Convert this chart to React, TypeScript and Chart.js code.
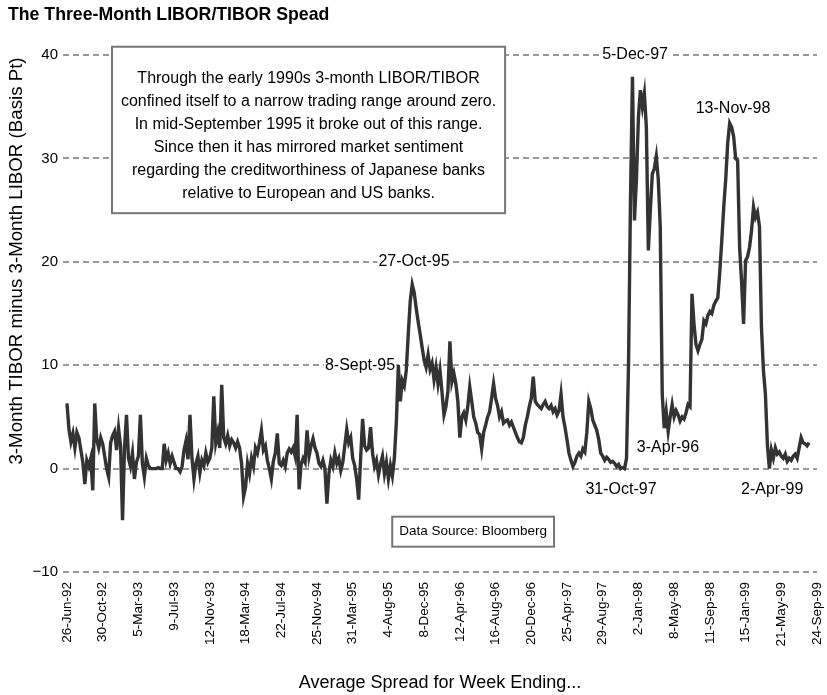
import React, { useEffect, useRef } from 'react';
import { Chart, registerables } from 'chart.js';

Chart.register(...registerables);

const chartTitle = 'The Three-Month LIBOR/TIBOR Spead';
const yAxisTitle = '3-Month TIBOR minus 3-Month LIBOR (Basis Pt)';
const xAxisTitle = 'Average Spread for Week Ending...';

// x tick labels, one every 18 weeks starting 26-Jun-92
const tickLabels = [
  '26-Jun-92', '30-Oct-92', '5-Mar-93', '9-Jul-93', '12-Nov-93', '18-Mar-94',
  '22-Jul-94', '25-Nov-94', '31-Mar-95', '4-Aug-95', '8-Dec-95', '12-Apr-96',
  '16-Aug-96', '20-Dec-96', '25-Apr-97', '29-Aug-97', '2-Jan-98', '8-May-98',
  '11-Sep-98', '15-Jan-99', '21-May-99', '24-Sep-99',
];
const weeksPerTick = 18;

const yTicks = [-10, 0, 10, 20, 30, 40];

// weekly spread (basis points), week 0 = 26-Jun-92
const spreadBp = [
  // 0-17
  6.3, 3.8, 2.6, 3.4, 2.0, 3.5, 3.0, 1.8, 0.6, -1.5, 0.8, 0.2, 1.0, -2.1, 6.3, 2.8, 2.0, 3.0,
  // 18-35
  2.4, 1.2, 0.0, -0.8, 2.5, 3.2, 3.6, 1.8, 3.9, 2.2, -5.0, 2.0, 5.2, 1.0, 0.2, 1.5, -1.0, 0.6,
  // 36-53
  1.2, 5.2, 0.5, -0.8, 1.0, 0.3, 0.0, 0.0, 0.0, 0.0, 0.1, 0.0, 0.0, 2.4, 0.8, 1.5, 0.5, 1.2,
  // 54-71
  0.6, 0.0, 0.0, -0.3, 0.2, 1.8, 2.7, 0.9, 5.2, 1.0, -1.0, 0.5, 1.2, -0.4, 0.8, 0.3, 1.5, 0.6,
  // 72-89
  1.0, 2.0, 7.0, 2.5, 3.5, 2.0, 8.1, 3.0, 2.4, 3.2, 2.2, 2.8, 2.5, 2.0, 2.6, 2.0, 0.5, -2.7,
  // 90-107
  -1.8, 0.5, -0.5, 1.0, 0.2, 2.0, 1.5, 2.5, 3.7, 1.8, 2.2, 0.8, 0.0, -1.0, 0.7, 1.5, 3.4, 0.5,
  // 108-125
  0.3, 0.8, 0.2, 1.5, 1.9, 1.6, 2.0, 1.2, 5.2, -2.0, 0.4, 1.0, 0.6, 3.7, 1.2, 2.2, 2.9, 2.0,
  // 126-143
  1.5, 0.5, 0.2, 0.8, 0.0, -3.4, -0.5, 0.8, 0.2, 1.5, 0.5, 1.0, -0.2, 0.6, 2.2, 3.8, 2.5, 3.0,
  // 144-161
  1.0, 0.3, -1.0, -3.0, 1.0, 4.8, 2.2, 1.8, 2.0, 4.0, 1.5, 0.2, 0.8, -0.6, 0.4, 1.2, -0.5, 0.6,
  // 162-179
  -1.0, 0.3, -0.7, 1.0, 4.5, 10.0, 6.5, 8.5, 8.0, 9.5, 13.0, 16.2, 17.8, 17.0, 15.5, 14.2, 13.0, 11.7,
  // 180-197
  10.5, 9.8, 11.0, 9.6, 10.2, 8.6, 9.8, 8.2, 9.5, 7.4, 5.2, 6.0, 7.5, 12.3, 8.4, 9.2, 8.2, 6.5,
  // 198-215
  3.0, 5.0, 5.4, 4.7, 6.0, 7.9, 6.5, 5.0, 4.4, 3.5, 3.3, 1.9, 3.5, 4.2, 5.0, 5.5, 6.8, 8.2,
  // 216-233
  6.8, 6.1, 5.0, 5.5, 4.4, 4.6, 4.7, 4.2, 4.5, 4.0, 3.5, 3.0, 2.6, 2.5, 3.0, 4.2, 5.0, 6.0,
  // 234-251
  6.8, 8.9, 6.5, 6.2, 6.0, 5.8, 6.2, 6.5, 6.0, 5.8, 6.1, 5.5, 5.8, 5.2, 5.6, 7.2, 5.0, 4.0,
  // 252-269
  2.8, 1.5, 0.8, 0.2, 0.6, 1.2, 1.5, 1.2, 1.9, 1.6, 3.5, 6.5, 5.8, 4.7, 4.2, 3.7, 2.8, 1.5,
  // 270-287
  1.2, 0.8, 1.1, 0.9, 0.6, 0.7, 0.5, 0.2, 0.4, 0.0, 0.1, 0.0, 1.0, 10.0, 26.0, 37.9, 24.0, 28.0,
  // 288-305
  34.0, 36.6, 35.0, 36.3, 33.0, 21.1, 25.0, 28.5, 29.0, 30.2, 28.0, 23.4, 7.2, 3.9, 5.5, 3.6, 5.0, 6.2,
  // 306-323
  5.0, 5.6, 5.2, 4.6, 5.0, 4.8, 5.4, 6.2, 6.0, 16.9, 14.0, 12.0, 11.4, 12.0, 12.5, 14.3, 14.0, 14.8,
  // 324-341
  15.2, 15.0, 15.8, 16.2, 16.5, 19.0, 22.0, 25.3, 28.0, 31.5, 33.4, 33.0, 32.1, 30.0, 29.8, 21.4, 18.0, 14.0,
  // 342-359
  20.1, 20.5, 21.4, 23.0, 25.3, 24.3, 24.8, 23.4, 13.7, 9.5, 7.2, 2.3, 0.0, 1.8, 1.0, 2.0, 1.4, 1.6,
  // 360-374
  1.2, 1.0, 1.4, 0.7, 1.0, 0.8, 1.2, 1.4, 1.0, 2.0, 3.0, 2.5, 2.4, 2.2, 2.5,
];

const noteLines = [
  'Through the early 1990s 3-month LIBOR/TIBOR',
  'confined itself to a narrow trading range around zero.',
  'In mid-September 1995 it broke out of this range.',
  'Since then it has mirrored market sentiment',
  'regarding the creditworthiness of Japanese banks',
  'relative to European and US banks.',
];
const sourceText = 'Data Source: Bloomberg';

// event labels: text, anchor week, anchor level (bp)
const eventTexts = ['5-Dec-97', '13-Nov-98', '27-Oct-95', '8-Sept-95', '3-Apr-96', '31-Oct-97', '2-Apr-99'];
const eventWeeks = [286.3, 335.7, 174.9, 147.7, 302.9, 279.2, 355.4];
const eventLevels = [40, 34.8, 20, 10, 2.0, -2.0, -2.0];
const eventOnGrid = [true, false, true, true, false, false, false];

const FONT = '"Liberation Sans", Arial, Helvetica, sans-serif';

const overlayPlugin = {
  id: 'overlay',
  afterDatasetsDraw(chart: any) {
    const { ctx, scales } = chart;
    const x = scales.x;
    const y = scales.y;
    ctx.save();

    // title
    ctx.fillStyle = '#000';
    ctx.font = `bold 17.7px ${FONT}`;
    ctx.textBaseline = 'middle';
    ctx.textAlign = 'left';
    ctx.fillText(chartTitle, 8, 15);

    // y axis title
    ctx.save();
    ctx.translate(17, 261);
    ctx.rotate(-Math.PI / 2);
    ctx.font = `18.7px ${FONT}`;
    ctx.textAlign = 'center';
    ctx.fillText(yAxisTitle, 0, 0);
    ctx.restore();

    // note box
    const bx0 = x.getPixelForValue(22.7);
    const bx1 = x.getPixelForValue(220.8);
    const by0 = y.getPixelForValue(40.8);
    const by1 = y.getPixelForValue(24.7);
    ctx.fillStyle = '#fff';
    ctx.fillRect(bx0, by0, bx1 - bx0, by1 - by0);
    ctx.strokeStyle = '#777';
    ctx.lineWidth = 2;
    ctx.strokeRect(bx0, by0, bx1 - bx0, by1 - by0);
    ctx.fillStyle = '#000';
    ctx.font = `16px ${FONT}`;
    ctx.textAlign = 'center';
    ctx.textBaseline = 'middle';
    const cx = (bx0 + bx1) / 2;
    noteLines.forEach((line, i) => {
      ctx.fillText(line, cx, by0 + 32 + i * 23);
    });

    // source box
    const sx = x.getPixelForValue(204.7);
    const sy = y.getPixelForValue(-6.1);
    ctx.font = `13.5px ${FONT}`;
    const sw = ctx.measureText(sourceText).width + 14;
    ctx.fillStyle = '#fff';
    ctx.fillRect(sx - sw / 2, sy - 15, sw, 30);
    ctx.strokeStyle = '#777';
    ctx.lineWidth = 2;
    ctx.strokeRect(sx - sw / 2, sy - 15, sw, 30);
    ctx.fillStyle = '#000';
    ctx.fillText(sourceText, sx, sy);

    // event labels
    ctx.font = `16px ${FONT}`;
    eventTexts.forEach((t, i) => {
      const px = x.getPixelForValue(eventWeeks[i]);
      const py = y.getPixelForValue(eventLevels[i]);
      if (eventOnGrid[i]) {
        const w = ctx.measureText(t).width + 2;
        ctx.fillStyle = '#fff';
        ctx.fillRect(px - w / 2, py - 3, w, 6);
      }
      ctx.fillStyle = '#000';
      ctx.fillText(t, px, py);
    });

    ctx.restore();
  },
};

export default function App() {
  const ref = useRef<HTMLCanvasElement | null>(null);

  useEffect(() => {
    if (!ref.current) return;
    Chart.defaults.font.family = FONT;
    Chart.defaults.color = '#000';
    const chart = new Chart(ref.current, {
      type: 'line',
      data: {
        datasets: [
          {
            data: spreadBp.map((v, i) => ({ x: i, y: v })),
            borderColor: '#333',
            borderWidth: 3.4,
            pointRadius: 0,
            tension: 0,
            fill: false,
          },
        ],
      },
      options: {
        animation: false,
        responsive: true,
        maintainAspectRatio: false,
        devicePixelRatio: 1,
        layout: { padding: { top: 55, left: 0, right: 10, bottom: 0 }, autoPadding: false },
        plugins: {
          legend: { display: false },
          title: { display: false },
          tooltip: { enabled: false },
        },
        scales: {
          x: {
            type: 'linear',
            min: -2,
            max: 378,
            afterBuildTicks: (s: any) => {
              s.ticks = tickLabels.map((_, i) => ({ value: i * weeksPerTick }));
            },
            afterFit: (s: any) => {
              s.height = 123;
              s.paddingLeft = 0;
              s.paddingRight = 0;
            },
            grid: { display: false, drawTicks: false },
            border: { display: false },
            ticks: {
              autoSkip: false,
              minRotation: 90,
              maxRotation: 90,
              padding: 10,
              color: '#000',
              font: { size: 13.5 },
              callback: (v: any) => tickLabels[Math.round(Number(v) / weeksPerTick)] ?? '',
            },
            title: {
              display: true,
              text: xAxisTitle,
              color: '#000',
              font: { size: 18 },
              padding: { top: 0, bottom: 1 },
            },
          },
          y: {
            min: -10,
            max: 40,
            afterBuildTicks: (s: any) => {
              s.ticks = yTicks.map((v) => ({ value: v }));
            },
            afterFit: (s: any) => {
              s.width = 63;
            },
            grid: { color: '#999', lineWidth: 2, drawTicks: false },
            border: { display: false, dash: [6, 4] },
            ticks: {
              padding: 5,
              color: '#000',
              font: { size: 15 },
              callback: (v: any) => (Number(v) < 0 ? '\u2212' + Math.abs(Number(v)) : String(v)),
            },
          },
        },
      },
      plugins: [overlayPlugin],
    });
    return () => chart.destroy();
  }, []);

  return (
    <div style={{ position: 'fixed', left: 0, top: 0, width: 827, height: 695, background: '#fff' }}>
      <canvas ref={ref} />
    </div>
  );
}
